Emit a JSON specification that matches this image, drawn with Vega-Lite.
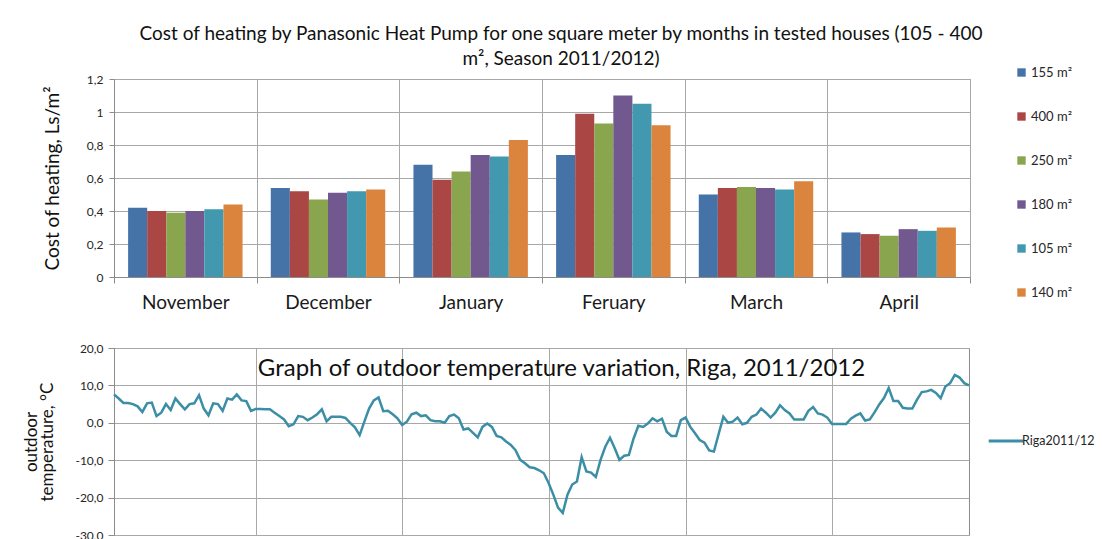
{
  "$schema": "https://vega.github.io/schema/vega-lite/v6.json",
  "background": "white",
  "padding": {"left": 22, "top": 24, "right": 0, "bottom": 0},
  "spacing": 28,
  "config": {
    "font": "Lato",
    "locale": {"number": {"decimal": ",", "thousands": " ", "grouping": [3], "currency": ["", ""], "minus": "-"}},
    "view": {"stroke": "#8c8c8c", "strokeWidth": 1},
    "axis": {"gridColor": "#a8a8a8", "domainColor": "#8c8c8c", "tickColor": "#8c8c8c", "labelColor": "#262626", "titleColor": "#111111", "labelFont": "Lato", "titleFont": "Lato", "titleFontWeight": "normal"},
    "legend": {"labelFont": "Lato", "labelColor": "#262626"},
    "title": {"font": "Lato", "fontWeight": "normal", "color": "#111111"}
  },
  "resolve": {"scale": {"color": "independent"}, "legend": {"color": "independent"}},
  "datasets": {
    "bars": [
      {"month": "November", "house": "155 m²", "cost": 0.42},
      {"month": "November", "house": "400 m²", "cost": 0.40},
      {"month": "November", "house": "250 m²", "cost": 0.39},
      {"month": "November", "house": "180 m²", "cost": 0.40},
      {"month": "November", "house": "105 m²", "cost": 0.41},
      {"month": "November", "house": "140 m²", "cost": 0.44},
      {"month": "December", "house": "155 m²", "cost": 0.54},
      {"month": "December", "house": "400 m²", "cost": 0.52},
      {"month": "December", "house": "250 m²", "cost": 0.47},
      {"month": "December", "house": "180 m²", "cost": 0.51},
      {"month": "December", "house": "105 m²", "cost": 0.52},
      {"month": "December", "house": "140 m²", "cost": 0.53},
      {"month": "January", "house": "155 m²", "cost": 0.68},
      {"month": "January", "house": "400 m²", "cost": 0.59},
      {"month": "January", "house": "250 m²", "cost": 0.64},
      {"month": "January", "house": "180 m²", "cost": 0.74},
      {"month": "January", "house": "105 m²", "cost": 0.73},
      {"month": "January", "house": "140 m²", "cost": 0.83},
      {"month": "Feruary", "house": "155 m²", "cost": 0.74},
      {"month": "Feruary", "house": "400 m²", "cost": 0.99},
      {"month": "Feruary", "house": "250 m²", "cost": 0.93},
      {"month": "Feruary", "house": "180 m²", "cost": 1.10},
      {"month": "Feruary", "house": "105 m²", "cost": 1.05},
      {"month": "Feruary", "house": "140 m²", "cost": 0.92},
      {"month": "March", "house": "155 m²", "cost": 0.50},
      {"month": "March", "house": "400 m²", "cost": 0.54},
      {"month": "March", "house": "250 m²", "cost": 0.545},
      {"month": "March", "house": "180 m²", "cost": 0.54},
      {"month": "March", "house": "105 m²", "cost": 0.53},
      {"month": "March", "house": "140 m²", "cost": 0.58},
      {"month": "April", "house": "155 m²", "cost": 0.27},
      {"month": "April", "house": "400 m²", "cost": 0.26},
      {"month": "April", "house": "250 m²", "cost": 0.25},
      {"month": "April", "house": "180 m²", "cost": 0.29},
      {"month": "April", "house": "105 m²", "cost": 0.28},
      {"month": "April", "house": "140 m²", "cost": 0.30}
    ],
    "temp": [
      {"day": 0, "t": 7.6}, {"day": 1, "t": 6.5}, {"day": 2, "t": 5.3}, {"day": 3, "t": 5.3}, {"day": 4, "t": 5.0},
      {"day": 5, "t": 4.4}, {"day": 6, "t": 2.9}, {"day": 7, "t": 5.2}, {"day": 8, "t": 5.4}, {"day": 9, "t": 1.8},
      {"day": 10, "t": 2.7}, {"day": 11, "t": 5.0}, {"day": 12, "t": 3.4}, {"day": 13, "t": 6.5}, {"day": 14, "t": 5.0},
      {"day": 15, "t": 3.6}, {"day": 16, "t": 5.0}, {"day": 17, "t": 5.2}, {"day": 18, "t": 7.4}, {"day": 19, "t": 3.8},
      {"day": 20, "t": 2.0}, {"day": 21, "t": 5.2}, {"day": 22, "t": 5.0}, {"day": 23, "t": 3.2}, {"day": 24, "t": 6.5},
      {"day": 25, "t": 6.2}, {"day": 26, "t": 7.6}, {"day": 27, "t": 6.0}, {"day": 28, "t": 5.8}, {"day": 29, "t": 3.2},
      {"day": 30, "t": 3.7}, {"day": 31, "t": 3.7}, {"day": 32, "t": 3.6}, {"day": 33, "t": 3.6}, {"day": 34, "t": 2.7},
      {"day": 35, "t": 1.8}, {"day": 36, "t": 0.9}, {"day": 37, "t": -0.9}, {"day": 38, "t": -0.4}, {"day": 39, "t": 1.8},
      {"day": 40, "t": 1.6}, {"day": 41, "t": 0.7}, {"day": 42, "t": 1.4}, {"day": 43, "t": 2.3}, {"day": 44, "t": 3.6},
      {"day": 45, "t": 0.4}, {"day": 46, "t": 1.6}, {"day": 47, "t": 1.6}, {"day": 48, "t": 1.6}, {"day": 49, "t": 1.3},
      {"day": 50, "t": 0.0}, {"day": 51, "t": -1.2}, {"day": 52, "t": -3.3}, {"day": 53, "t": 0.3}, {"day": 54, "t": 3.8},
      {"day": 55, "t": 6.0}, {"day": 56, "t": 6.8}, {"day": 57, "t": 3.1}, {"day": 58, "t": 3.2}, {"day": 59, "t": 2.3},
      {"day": 60, "t": 1.2},
      {"day": 61, "t": -0.6}, {"day": 62, "t": 0.3}, {"day": 63, "t": 2.3}, {"day": 64, "t": 2.7}, {"day": 65, "t": 1.8},
      {"day": 66, "t": 2.0}, {"day": 67, "t": 0.7}, {"day": 68, "t": 0.4}, {"day": 69, "t": 0.4}, {"day": 70, "t": 0.0},
      {"day": 71, "t": 1.8}, {"day": 72, "t": 2.2}, {"day": 73, "t": 1.2}, {"day": 74, "t": -1.8}, {"day": 75, "t": -1.5},
      {"day": 76, "t": -2.7}, {"day": 77, "t": -3.9}, {"day": 78, "t": -1.1}, {"day": 79, "t": -0.2}, {"day": 80, "t": -1.1},
      {"day": 81, "t": -3.5}, {"day": 82, "t": -3.9}, {"day": 83, "t": -5.0}, {"day": 84, "t": -5.9}, {"day": 85, "t": -7.3},
      {"day": 86, "t": -9.9}, {"day": 87, "t": -10.8}, {"day": 88, "t": -11.9}, {"day": 89, "t": -12.1}, {"day": 90, "t": -12.7},
      {"day": 91, "t": -13.5},
      {"day": 92, "t": -16.1}, {"day": 93, "t": -19.2}, {"day": 94, "t": -22.7}, {"day": 95, "t": -24.1}, {"day": 96, "t": -19.2},
      {"day": 97, "t": -16.5}, {"day": 98, "t": -15.7}, {"day": 99, "t": -9.2}, {"day": 100, "t": -13.0}, {"day": 101, "t": -13.3},
      {"day": 102, "t": -14.5}, {"day": 103, "t": -9.9}, {"day": 104, "t": -6.4}, {"day": 105, "t": -4.0}, {"day": 106, "t": -6.8},
      {"day": 107, "t": -9.9}, {"day": 108, "t": -8.8}, {"day": 109, "t": -8.6}, {"day": 110, "t": -4.2}, {"day": 111, "t": -0.8},
      {"day": 112, "t": -1.1}, {"day": 113, "t": -0.2}, {"day": 114, "t": 1.2}, {"day": 115, "t": 0.4}, {"day": 116, "t": 1.1},
      {"day": 117, "t": -2.4}, {"day": 118, "t": -3.5}, {"day": 119, "t": -3.5}, {"day": 120, "t": 0.7},
      {"day": 121, "t": 1.4}, {"day": 122, "t": -1.1}, {"day": 123, "t": -2.8}, {"day": 124, "t": -4.6}, {"day": 125, "t": -5.3},
      {"day": 126, "t": -7.4}, {"day": 127, "t": -7.7}, {"day": 128, "t": -3.0}, {"day": 129, "t": 1.6}, {"day": 130, "t": 0.0},
      {"day": 131, "t": 0.3}, {"day": 132, "t": 1.4}, {"day": 133, "t": -0.4}, {"day": 134, "t": 0.0}, {"day": 135, "t": 1.6},
      {"day": 136, "t": 2.2}, {"day": 137, "t": 3.8}, {"day": 138, "t": 2.7}, {"day": 139, "t": 1.4}, {"day": 140, "t": 2.7},
      {"day": 141, "t": 4.7}, {"day": 142, "t": 3.4}, {"day": 143, "t": 2.5}, {"day": 144, "t": 0.9}, {"day": 145, "t": 0.9},
      {"day": 146, "t": 0.9}, {"day": 147, "t": 3.2}, {"day": 148, "t": 4.2}, {"day": 149, "t": 2.5}, {"day": 150, "t": 2.2},
      {"day": 151, "t": 1.4},
      {"day": 152, "t": -0.3}, {"day": 153, "t": -0.3}, {"day": 154, "t": -0.3}, {"day": 155, "t": -0.3}, {"day": 156, "t": 1.1},
      {"day": 157, "t": 1.9}, {"day": 158, "t": 2.5}, {"day": 159, "t": 0.6}, {"day": 160, "t": 0.9}, {"day": 161, "t": 2.8},
      {"day": 162, "t": 4.9}, {"day": 163, "t": 6.6}, {"day": 164, "t": 9.3}, {"day": 165, "t": 5.8}, {"day": 166, "t": 5.8},
      {"day": 167, "t": 4.0}, {"day": 168, "t": 3.8}, {"day": 169, "t": 3.8}, {"day": 170, "t": 6.2}, {"day": 171, "t": 8.2},
      {"day": 172, "t": 8.4}, {"day": 173, "t": 8.8}, {"day": 174, "t": 8.0}, {"day": 175, "t": 6.6}, {"day": 176, "t": 9.7},
      {"day": 177, "t": 10.6}, {"day": 178, "t": 12.8}, {"day": 179, "t": 12.1}, {"day": 180, "t": 10.6}, {"day": 181, "t": 10.0}
    ]
  },
  "vconcat": [
    {
      "width": 856,
      "height": 198,
      "title": {
        "text": ["Cost of heating by Panasonic Heat Pump for one square meter by months in tested houses (105 - 400", "m², Season 2011/2012)"],
        "fontSize": 19,
        "lineHeight": 25,
        "anchor": "middle",
        "frame": "group",
        "dx": 19,
        "dy": 3,
        "offset": 0
      },
      "data": {"name": "bars"},
      "mark": {"type": "bar"},
      "encoding": {
        "x": {
          "field": "month", "type": "nominal",
          "sort": ["November", "December", "January", "Feruary", "March", "April"],
          "scale": {"paddingInner": 0, "paddingOuter": 0},
          "axis": {"title": null, "labelAngle": 0, "tickBand": "extent", "grid": true, "labelFontSize": 19, "labelPadding": 10, "tickSize": 6, "labelColor": "#1a1a1a"}
        },
        "xOffset": {
          "field": "house", "type": "nominal",
          "sort": ["155 m²", "400 m²", "250 m²", "180 m²", "105 m²", "140 m²"],
          "scale": {"paddingInner": 0, "paddingOuter": 0.74}
        },
        "y": {
          "field": "cost", "type": "quantitative",
          "scale": {"domain": [0, 1.2], "nice": false},
          "axis": {"title": "Cost of heating, Ls/m²", "titleFontSize": 19, "titlePadding": 24, "values": [0, 0.2, 0.4, 0.6, 0.8, 1, 1.2], "format": ".1~f", "labelFontSize": 12, "tickSize": 5, "labelPadding": 6}
        },
        "color": {
          "field": "house", "type": "nominal",
          "scale": {"domain": ["155 m²", "400 m²", "250 m²", "180 m²", "105 m²", "140 m²"], "range": ["#4572A7", "#AA4643", "#89A54E", "#71588F", "#4198AF", "#DB843D"]},
          "legend": {"title": null, "orient": "none", "legendX": 901, "legendY": -13, "symbolType": "square", "symbolSize": 70, "symbolStrokeWidth": 0, "labelFontSize": 13, "rowPadding": 30, "labelOffset": 3}
        }
      }
    },
    {
      "width": 855,
      "height": 187,
      "title": {
        "text": "Graph of outdoor temperature variation, Riga, 2011/2012",
        "fontSize": 24,
        "anchor": "middle",
        "frame": "group",
        "dx": 20,
        "dy": 58,
        "baseline": "alphabetic",
        "offset": 0
      },
      "data": {"name": "temp"},
      "mark": {"type": "line", "strokeWidth": 2.5},
      "encoding": {
        "x": {
          "field": "day", "type": "quantitative",
          "scale": {"domain": [0, 181], "nice": false, "zero": false},
          "axis": {"title": null, "values": [30, 61, 92, 121, 152], "grid": true, "labels": false, "ticks": false, "domain": false}
        },
        "y": {
          "field": "t", "type": "quantitative",
          "scale": {"domain": [-30, 20], "nice": false},
          "axis": {"title": ["outdoor", "temperature, °C"], "titleFontSize": 17, "titleLineHeight": 16, "titlePadding": 18, "values": [-30, -20, -10, 0, 10, 20], "format": ".1f", "labelFontSize": 12, "tickSize": 6, "labelPadding": 5}
        },
        "color": {
          "datum": "Riga2011/12", "type": "nominal",
          "scale": {"range": ["#3B8EA5"]},
          "legend": {"title": null, "orient": "none", "legendX": 873, "legendY": 74, "symbolType": "stroke", "symbolSize": 1200, "symbolStrokeWidth": 3, "labelFontSize": 12.5, "labelOffset": -3}
        }
      }
    }
  ]
}
